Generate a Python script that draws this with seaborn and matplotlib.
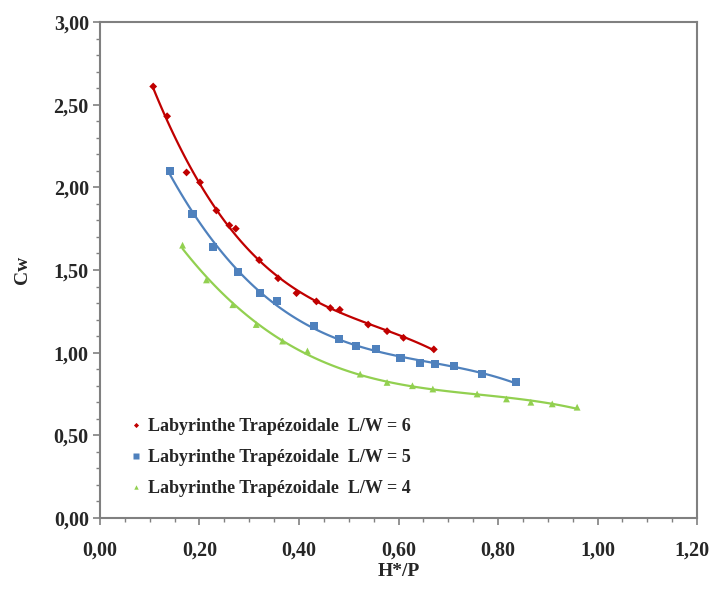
import numpy as np
import pandas as pd
import matplotlib
matplotlib.use("Agg")
import matplotlib.pyplot as plt
import matplotlib.transforms as mtransforms
from matplotlib.ticker import MultipleLocator, FuncFormatter
import seaborn as sns

# Measured discharge coefficient Cw against relative head H*/P
hp_lw6 = [0.107, 0.135, 0.174, 0.201, 0.234, 0.260, 0.273, 0.320, 0.358, 0.395,
          0.435, 0.463, 0.482, 0.539, 0.577, 0.610, 0.671]
cw_lw6 = [2.61, 2.43, 2.09, 2.03, 1.86, 1.77, 1.75, 1.56, 1.45, 1.36,
          1.31, 1.27, 1.26, 1.17, 1.13, 1.09, 1.02]

hp_lw5 = [0.141, 0.186, 0.228, 0.278, 0.322, 0.355, 0.431, 0.481, 0.515, 0.555,
          0.604, 0.644, 0.674, 0.712, 0.768, 0.837]
cw_lw5 = [2.10, 1.84, 1.64, 1.49, 1.36, 1.31, 1.16, 1.08, 1.04, 1.02,
          0.97, 0.94, 0.93, 0.92, 0.87, 0.82]

hp_lw4 = [0.166, 0.214, 0.267, 0.314, 0.367, 0.417, 0.523, 0.577, 0.628, 0.669,
          0.758, 0.817, 0.866, 0.909, 0.959]
cw_lw4 = [1.65, 1.44, 1.29, 1.17, 1.07, 1.01, 0.87, 0.82, 0.80, 0.78,
          0.75, 0.72, 0.70, 0.69, 0.67]

labels = ["Labyrinthe Trapézoidale  L/W = 6",
          "Labyrinthe Trapézoidale  L/W = 5",
          "Labyrinthe Trapézoidale  L/W = 4"]

sns.set_style("ticks")
plt.rcParams["font.family"] = ["Liberation Serif", "DejaVu Serif"]
plt.rcParams["font.weight"] = "bold"

fig = plt.figure(figsize=(7.12, 5.98), dpi=100)
ax = fig.add_axes([0.1404, 0.1338, 0.8386, 0.8294])

series = [
    (hp_lw6, cw_lw6, "#C00000", "D", 16),
    (hp_lw5, cw_lw5, "#4F81BD", "s", 34),
    (hp_lw4, cw_lw4, "#92D050", "^", 24),
]

handles = []
for (hp, cw, color, marker, size), label in zip(series, labels):
    df = pd.DataFrame({"hp": hp, "cw": cw})
    sns.regplot(data=df, x="hp", y="cw", order=3, ci=None, scatter=False,
                truncate=True, ax=ax, line_kws=dict(color=color, lw=1.6))
    sns.scatterplot(data=df, x="hp", y="cw", ax=ax, color=color, marker=marker,
                    s=size, edgecolor="none", zorder=3)
    handles.append(plt.Line2D([], [], ls="none", marker=marker, color=color,
                              markersize=np.sqrt(size) * 0.65, mec="none"))

ax.set_xlim(0, 1.2)
ax.set_ylim(0, 3.0)
ax.xaxis.set_major_locator(MultipleLocator(0.2))
ax.xaxis.set_minor_locator(MultipleLocator(0.05))
ax.yaxis.set_major_locator(MultipleLocator(0.5))
ax.yaxis.set_minor_locator(MultipleLocator(0.1))
fmt = FuncFormatter(lambda v, p: f"{v:.2f}".replace(".", ","))
ax.xaxis.set_major_formatter(fmt)
ax.yaxis.set_major_formatter(fmt)

for side in ["top", "right", "bottom", "left"]:
    ax.spines[side].set_visible(True)
    ax.spines[side].set_color("#808080")
    ax.spines[side].set_linewidth(1.5)

ax.tick_params(which="major", direction="out", length=5, width=1.2,
               color="#808080", labelsize=14.5, pad=3)
ax.tick_params(axis="x", which="major", pad=11)
ax.tick_params(which="minor", direction="out", length=3, width=1.0,
               color="#808080")

ax.set_xlabel("H*/P", fontsize=14, fontweight="bold", labelpad=2)
ax.set_ylabel("Cw", fontsize=14, fontweight="bold", labelpad=16)

ax.legend(handles, labels, loc="lower left", bbox_to_anchor=(0.027, 0.009),
          frameon=False, handlelength=0.4, handletextpad=0.45,
          labelspacing=0.78, prop=dict(size=13, weight="bold"))

# keep the right-most x tick label inside the canvas
fig.canvas.draw()
ticks = ax.xaxis.get_major_ticks()
for tick in ticks:
    if np.isclose(tick.get_loc(), 1.2):
        shift = mtransforms.ScaledTranslation(-4 / 72, 0, fig.dpi_scale_trans)
        tick.label1.set_transform(tick.label1.get_transform() + shift)

fig.savefig("out.png", dpi=100)
